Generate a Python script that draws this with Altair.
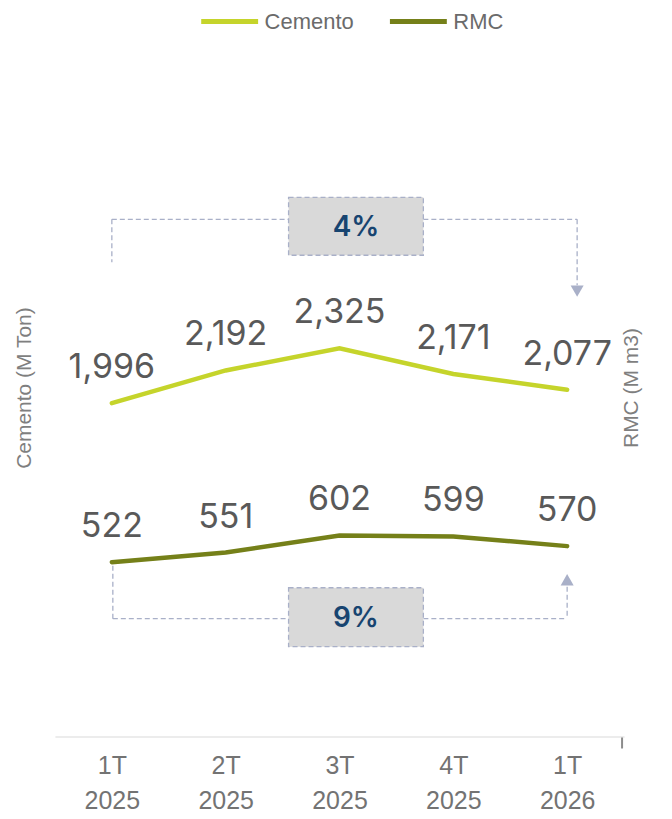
import altair as alt
import pandas as pd

quarters = ["1T 2025", "2T 2025", "3T 2025", "4T 2025", "1T 2026"]
cemento = [1996, 2192, 2325, 2171, 2077]
rmc = [522, 551, 602, 599, 570]
series = ["Cemento", "RMC"]
series_colors = ["#c5d42b", "#758019"]
axis_titles = ["Cemento (M Ton)", "RMC (M m3)"]
changes = ["4%", "9%"]

df = pd.DataFrame({"q": quarters, "Cemento": cemento, "RMC": rmc})

SANS = "Liberation Sans, Arial, sans-serif"
NUM = "Inter, Liberation Sans, sans-serif"
DASH_C = "#a9b0c8"

x_enc = alt.X(
    "q:N", sort=quarters, title=None,
    scale=alt.Scale(type="point", padding=0.5),
    axis=alt.Axis(
        labelExpr="split(datum.label, ' ')", labelFont=SANS, labelFontSize=25,
        labelColor="#737373", labelLineHeight=35, labelPadding=17, labelAngle=0,
        ticks=False, grid=False, domainColor="#d9d9d9", domainWidth=1,
    ),
)

color_enc = alt.Color(
    "series:N",
    scale=alt.Scale(domain=series, range=series_colors),
    legend=alt.Legend(
        title=None, orient="none", legendX=158, legendY=-64, direction="horizontal",
        symbolType="M-2,0H2", symbolStrokeWidth=5, symbolSize=812,
        labelFont=SANS, labelFontSize=22, labelColor="#6b6b6b",
        columnPadding=25, labelOffset=18,
    ),
)

base = alt.Chart(df).transform_fold(series, as_=["series", "value"])


def group(name, top):
    b = base.transform_filter(alt.datum.series == name)
    y = alt.Y("value:Q", axis=None, scale=alt.Scale(domain=[0, top]))
    line = b.mark_line(strokeWidth=4.5, strokeCap="round").encode(x=x_enc, y=y, color=color_enc)
    text = b.mark_text(dy=-25, fontSize=34, font=NUM, color="#595959", baseline="alphabetic").encode(
        x=x_enc, y=y, text=alt.Text("value:Q", format=",")
    )
    return alt.layer(line, text)


one = pd.DataFrame({"k": [0]})


def seg(x1, x2, y1, y2):
    return alt.Chart(one).mark_rule(color=DASH_C, strokeDash=[5, 3], strokeWidth=1.3).encode(
        x=alt.value(x1), x2=alt.value(x2), y=alt.value(y1), y2=alt.value(y2)
    )


def box(y1, y2, label):
    r = alt.Chart(one).mark_rect(fill="#d9d9d9", stroke=DASH_C, strokeDash=[5, 3], strokeWidth=1.3).encode(
        x=alt.value(234), x2=alt.value(369), y=alt.value(y1), y2=alt.value(y2)
    )
    t = alt.Chart(pd.DataFrame({"t": [label]})).mark_text(
        font=NUM, fontSize=28, fontWeight=600, color="#174470", baseline="middle", align="center"
    ).encode(x=alt.value(301.5), y=alt.value((y1 + y2) / 2 + 2), text="t:N")
    return [r, t]


def tri(xp, yp, shape):
    return alt.Chart(one).mark_point(shape=shape, filled=True, color=DASH_C, opacity=1, size=170).encode(
        x=alt.value(xp), y=alt.value(yp)
    )


annotations = [
    seg(57, 57, 151, 194), seg(57, 234, 151, 151), seg(369, 523, 151, 151), seg(523, 523, 151, 217),
    tri(523, 223, "triangle-down"),
    seg(58, 58, 498, 551), seg(58, 234, 551, 551), seg(369, 513, 551, 551), seg(513, 513, 519, 551),
    tri(513, 512, "triangle-up"),
    *box(129, 187, changes[0]),
    *box(520, 579, changes[1]),
    alt.Chart(one).mark_rule(color="#8c8c8c", strokeWidth=2).encode(
        x=alt.value(568), y=alt.value(670), y2=alt.value(681)
    ),
]

titles = [
    alt.Chart(pd.DataFrame({"t": [axis_titles[0]]})).mark_text(
        angle=270, font=SANS, fontSize=21, color="#7f7f7f", align="center", baseline="middle"
    ).encode(x=alt.value(-30), y=alt.value(320), text="t:N"),
    alt.Chart(pd.DataFrame({"t": [axis_titles[1]]})).mark_text(
        angle=270, font=SANS, fontSize=21, color="#7f7f7f", align="center", baseline="middle"
    ).encode(x=alt.value(578), y=alt.value(320), text="t:N"),
]

chart = alt.layer(
    *annotations, group("Cemento", 4000), group("RMC", 2000), *titles
).resolve_scale(y="independent").properties(
    width=570, height=669,
    autosize=alt.AutoSizeParams(type="none"),
    padding={"left": 47, "top": 60, "right": 40, "bottom": 80},
).configure_view(stroke=None)

chart.save("out.html", embed_options={"renderer": "svg", "actions": False})
